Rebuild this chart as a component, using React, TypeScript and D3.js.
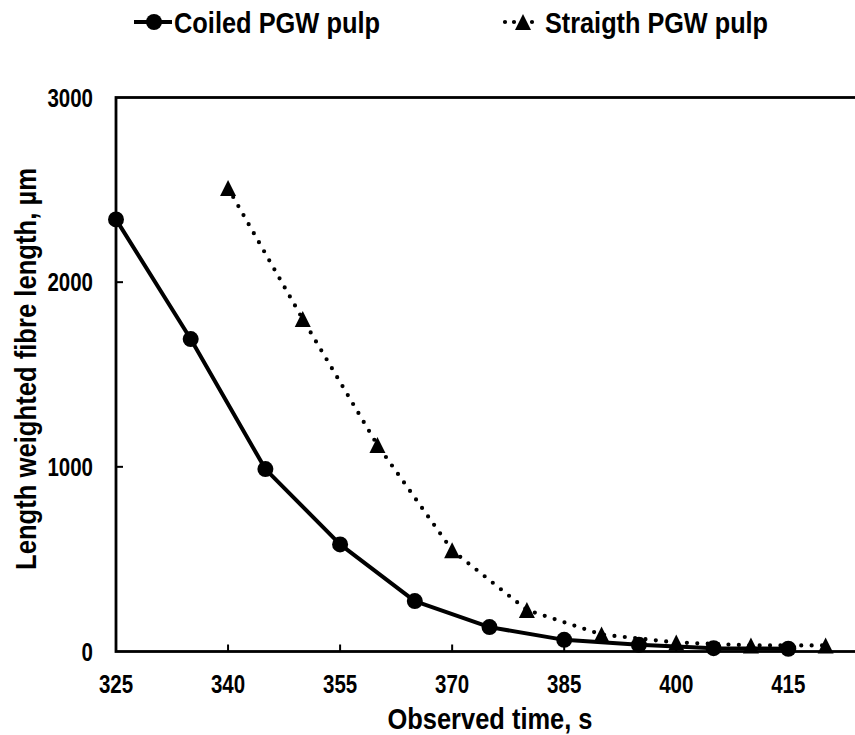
import React from "react";
import * as d3 from "d3";

const coiledTime = [325, 335, 345, 355, 365, 375, 385, 395, 405, 415];
const coiledLength = [2340, 1692, 988, 580, 273, 132, 63, 36, 18, 15];
const straightTime = [340, 350, 360, 370, 380, 390, 400, 410, 420];
const straightLength = [2510, 1800, 1118, 548, 225, 92, 49, 33, 33];
const xTicks = [325, 340, 355, 370, 385, 400, 415];
const yTicks = [0, 1000, 2000, 3000];
const seriesNames = ["Coiled PGW pulp", "Straigth PGW pulp"];
const xTitle = "Observed time, s";
const yTitle = "Length weighted fibre length, µm";

const W = 855;
const H = 735;
const FONT = "'Liberation Sans', Arial, sans-serif";
const DIGIT_W = 11.4;

export default function App() {
  const x = d3.scaleLinear().domain([325, 425]).range([116, 863]);
  const y = d3.scaleLinear().domain([0, 3000]).range([651.5, 97.5]);
  const left = x(325);
  const right = x(425);
  const top = y(3000);
  const bottom = y(0);

  const coiled = coiledTime.map((t, i) => [t, coiledLength[i]] as [number, number]);
  const straight = straightTime.map((t, i) => [t, straightLength[i]] as [number, number]);
  const line = d3
    .line<[number, number]>()
    .x((d) => x(d[0]))
    .y((d) => y(d[1]));

  const tri = (cx: number, cy: number, s: number) =>
    `M${cx},${cy - s}L${cx + s},${cy + s}L${cx - s},${cy + s}Z`;

  return (
    <svg
      width={W}
      height={H}
      style={{ position: "absolute", left: 0, top: 0, background: "#fff" }}
      fontFamily={FONT}
      fontWeight="bold"
    >
      <rect x={0} y={0} width={W} height={H} fill="#fff" />
      {/* plot border */}
      <rect
        x={left}
        y={top}
        width={right - left}
        height={bottom - top}
        fill="none"
        stroke="#000"
        strokeWidth={2.8}
      />
      {/* x ticks */}
      {xTicks.slice(1).map((t) => (
        <line key={"xt" + t} x1={x(t)} x2={x(t)} y1={bottom} y2={bottom - 7} stroke="#000" strokeWidth={2} />
      ))}
      {xTicks.map((t) => (
        <text
          key={"xl" + t}
          x={x(t)}
          y={bottom + 41.5}
          textAnchor="middle"
          fontSize={25}
          textLength={String(t).length * DIGIT_W}
          lengthAdjust="spacingAndGlyphs"
        >
          {t}
        </text>
      ))}
      {/* y ticks */}
      {yTicks.slice(1, -1).map((t) => (
        <line key={"yt" + t} x1={left} x2={left + 7} y1={y(t)} y2={y(t)} stroke="#000" strokeWidth={2} />
      ))}
      {yTicks.map((t) => (
        <text
          key={"yl" + t}
          x={93}
          y={y(t) + 9}
          textAnchor="end"
          fontSize={25}
          textLength={String(t).length * DIGIT_W}
          lengthAdjust="spacingAndGlyphs"
        >
          {t}
        </text>
      ))}
      {/* axis titles */}
      <text
        x={490}
        y={729}
        textAnchor="middle"
        fontSize={30}
        textLength={205}
        lengthAdjust="spacingAndGlyphs"
      >
        {xTitle}
      </text>
      <text
        transform={`translate(36,369) rotate(-90)`}
        textAnchor="middle"
        fontSize={30}
        textLength={402}
        lengthAdjust="spacingAndGlyphs"
      >
        {yTitle}
      </text>

      {/* straight series */}
      <path
        d={line(straight) || ""}
        fill="none"
        stroke="#000"
        strokeWidth={4.2}
        strokeDasharray="0 10.4"
        strokeLinecap="round"
      />
      {straight.map((d, i) => (
        <path key={"s" + i} d={tri(x(d[0]), y(d[1]), 8)} fill="#000" />
      ))}
      {/* coiled series */}
      <path d={line(coiled) || ""} fill="none" stroke="#000" strokeWidth={4} strokeLinejoin="round" />
      {coiled.map((d, i) => (
        <circle key={"c" + i} cx={x(d[0])} cy={y(d[1])} r={8} fill="#000" />
      ))}

      {/* legend */}
      <g>
        <line x1={134} x2={172} y1={22} y2={22} stroke="#000" strokeWidth={4} />
        <circle cx={154} cy={22} r={8} fill="#000" />
        <text x={174} y={33} fontSize={30} textLength={206} lengthAdjust="spacingAndGlyphs">
          {seriesNames[0]}
        </text>
        <line
          x1={505}
          x2={541}
          y1={22}
          y2={22}
          stroke="#000"
          strokeWidth={4.2}
          strokeDasharray="0 9"
          strokeLinecap="round"
        />
        <path d={tri(523, 22, 8)} fill="#000" />
        <text x={545} y={33} fontSize={30} textLength={223} lengthAdjust="spacingAndGlyphs">
          {seriesNames[1]}
        </text>
      </g>
    </svg>
  );
}
